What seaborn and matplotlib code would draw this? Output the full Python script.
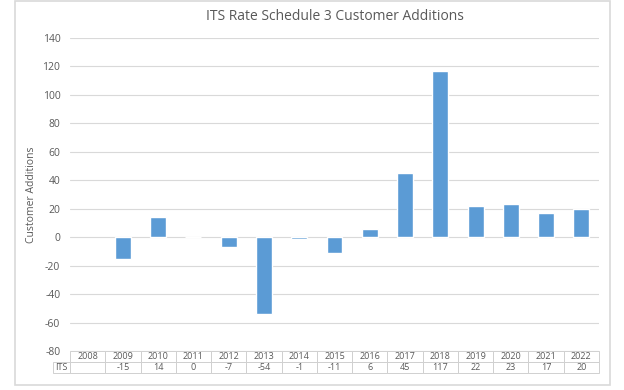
import matplotlib.pyplot as plt
import matplotlib.patches as patches
import numpy as np
import pandas as pd
import seaborn as sns

# chart data
years = ['2008', '2009', '2010', '2011', '2012', '2013', '2014', '2015',
         '2016', '2017', '2018', '2019', '2020', '2021', '2022']
its_values = [np.nan, -15, 14, 0, -7, -54, -1, -11, 6, 45, 117, 22, 23, 17, 20]
y_ticks = [-80, -60, -40, -20, 0, 20, 40, 60, 80, 100, 120, 140]

df = pd.DataFrame({'Year': years, 'ITS': its_values})

sns.set_style('white')
plt.rcParams['font.family'] = ['Open Sans', 'DejaVu Sans']

fig = plt.figure(figsize=(6.24, 3.9), dpi=100)
ax = fig.add_axes([70 / 624, 1 - 351 / 390, 529 / 624, 313 / 390])

grey = '#595959'
sns.barplot(data=df, x='Year', y='ITS', order=years, color='#5B9BD5',
            width=0.45, saturation=1, ax=ax)

ax.set_ylim(-80, 140)
ax.set_yticks(y_ticks)
ax.set_yticklabels([str(t) for t in y_ticks], fontsize=7.5, color=grey)
ax.tick_params(axis='y', length=0, pad=7)
ax.set_xticks([])
ax.set_xlabel('')
ax.set_ylabel('Customer Additions', fontsize=7.5, color=grey, labelpad=4)
ax.yaxis.grid(True, color='#D9D9D9', linewidth=0.8)
ax.set_axisbelow(True)
for s in ax.spines.values():
    s.set_visible(False)

ax.set_title('ITS Rate Schedule 3 Customer Additions', fontsize=10,
             color=grey, pad=13)

# data table under the plot
val_labels = ['' if pd.isna(v) else str(int(v)) for v in its_values]
cells = [[''] + years, ['ITS'] + val_labels]
lab_w = 17 / 529
tbl = ax.table(cellText=cells, cellLoc='center',
               colWidths=[lab_w] + [1 / len(years)] * len(years),
               bbox=[-lab_w, -22 / 313, 1 + lab_w, 22 / 313])
tbl.auto_set_font_size(False)
tbl.set_fontsize(6.5)
for (r, c), cell in tbl.get_celld().items():
    cell.set_edgecolor('#D0D0D0')
    cell.set_linewidth(0.7)
    cell.get_text().set_color(grey)
    if r == 0 and c == 0:
        cell.set_visible(False)

# outer chart frame
fig.patches.append(patches.Rectangle((15 / 624, 1 - 385 / 390), 595 / 624, 384 / 390,
                                     transform=fig.transFigure, fill=False,
                                     edgecolor='#D9D9D9', linewidth=1.2))

plt.savefig('out.png', dpi=100)
